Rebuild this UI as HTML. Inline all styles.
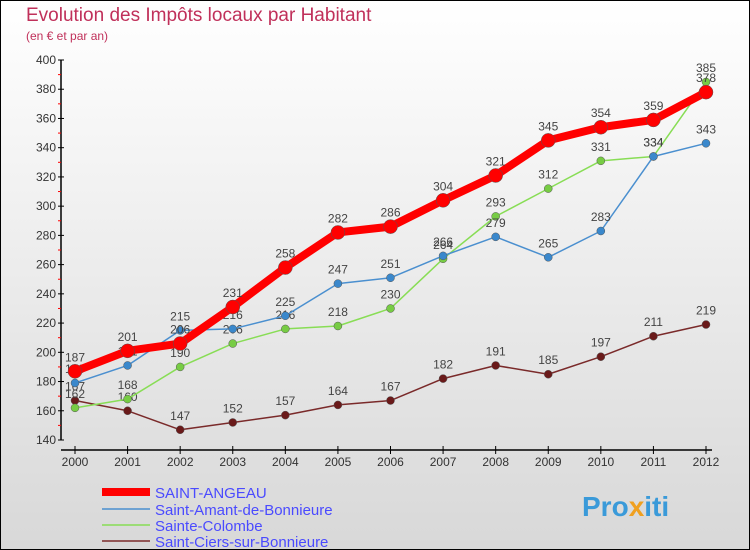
<!DOCTYPE html>
<html><head><meta charset="utf-8"><style>
body{margin:0;}
#wrap{width:750px;height:550px;position:relative;overflow:hidden;font-family:"Liberation Sans",sans-serif;}
</style></head><body>
<div id="wrap">
<svg id="svg" width="750" height="550" xmlns="http://www.w3.org/2000/svg">
<defs><linearGradient id="bg" x1="0" y1="0" x2="0" y2="1"><stop offset="0" stop-color="#ffffff"/><stop offset="1" stop-color="#d8d8d8"/></linearGradient></defs>
<rect x="0.5" y="0.5" width="749" height="549" fill="url(#bg)" stroke="#000"/>
<text x="26" y="21" font-size="19" fill="#c0305a">Evolution des Impôts locaux par Habitant</text>
<text x="26" y="40" font-size="12" fill="#c0305a">(en € et par an)</text>
<g id="axes"></g><g id="series"></g>
<g>
<line x1="102" y1="492" x2="150" y2="492" stroke="#ff0000" stroke-width="8"/>
<text x="155" y="498" font-size="15" fill="#4a4aff">SAINT-ANGEAU</text>
<line x1="102" y1="509" x2="150" y2="509" stroke="#4a8fcf" stroke-width="1.5"/>
<text x="155" y="515" font-size="15" fill="#4a4aff">Saint-Amant-de-Bonnieure</text>
<line x1="102" y1="525" x2="150" y2="525" stroke="#88dd55" stroke-width="1.5"/>
<text x="155" y="531" font-size="15" fill="#4a4aff">Sainte-Colombe</text>
<line x1="102" y1="541" x2="150" y2="541" stroke="#7a2a2a" stroke-width="1.5"/>
<text x="155" y="547" font-size="15" fill="#4a4aff">Saint-Ciers-sur-Bonnieure</text>
</g>
<text x="582" y="516" font-size="28" font-weight="bold" fill="#3a9ad9">Pro<tspan fill="#f0a020">x</tspan>iti</text>
</svg></div>
<script>
const years=[2000,2001,2002,2003,2004,2005,2006,2007,2008,2009,2010,2011,2012];
const yTicks=[140,160,180,200,220,240,260,280,300,320,340,360,380,400];
const angeau=[187,201,206,231,258,282,286,304,321,345,354,359,378];
const amant=[179,191,215,216,225,247,251,266,279,265,283,334,343];
const colombe=[162,168,190,206,216,218,230,264,293,312,331,334,385];
const ciers=[167,160,147,152,157,164,167,182,191,185,197,211,219];
const NS="http://www.w3.org/2000/svg";
const xS=i=>75+i*(706-75)/(years.length-1);
const yS=v=>60+(400-v)*(440-60)/(400-140);
function mk(t,a,p){const e=document.createElementNS(NS,t);for(const k in a)e.setAttribute(k,a[k]);p.appendChild(e);return e;}
const ax=document.getElementById('axes');
const yl=mk('line',{x1:61,y1:60,x2:61,y2:440,stroke:'#000','stroke-width':1.5},ax);


const xl=mk('line',{x1:61,y1:450,x2:712,y2:450,stroke:'#000','stroke-width':1.5},ax);


yTicks.forEach((v,i)=>{
 mk('line',{x1:58,y1:yS(v),x2:64,y2:yS(v),stroke:'#000'},ax);
 if(i<yTicks.length-1) mk('line',{x1:58,y1:yS(v+10),x2:61,y2:yS(v+10),stroke:'#f00'},ax);
 const t=mk('text',{x:56,y:yS(v)+4,'font-size':12,'text-anchor':'end',fill:'#333'},ax);
 t.textContent=v;
 
 
});
years.forEach((yr,i)=>{
 mk('line',{x1:xS(i),y1:446,x2:xS(i),y2:454,stroke:'#000'},ax);
 const t=mk('text',{x:xS(i),y:466,'font-size':12,'text-anchor':'middle',fill:'#333'},ax);
 t.textContent=yr;
 
 
});
const sg=document.getElementById('series');
function draw(arr,col,w,r,name,fill){
 const g=mk('g',{},sg);
 
 
 mk('polyline',{points:arr.map((v,i)=>xS(i)+','+yS(v)).join(' '),fill:'none',stroke:col,'stroke-width':w,'stroke-linejoin':'round'},g);
 arr.forEach((v,i)=>{
  const c=mk('circle',{cx:xS(i),cy:yS(v),r:r,fill:fill,stroke:'#555','stroke-width':0.5},g);
  
  
  const t=mk('text',{x:xS(i),y:yS(v)-10,'font-size':12,'text-anchor':'middle',fill:'#444'},g);
  t.textContent=v;
  
  
 });
}
draw(ciers,'#7a2a2a',1.5,4,'saint-ciers','#6a1a1a');
draw(colombe,'#88dd55',1.5,4,'sainte-colombe','#77cc44');
draw(amant,'#4a8fcf',1.5,4,'saint-amant','#3a88cc');
draw(angeau,'#ff0000',8,7,'saint-angeau','#ff0000');
</script>
</body></html>
